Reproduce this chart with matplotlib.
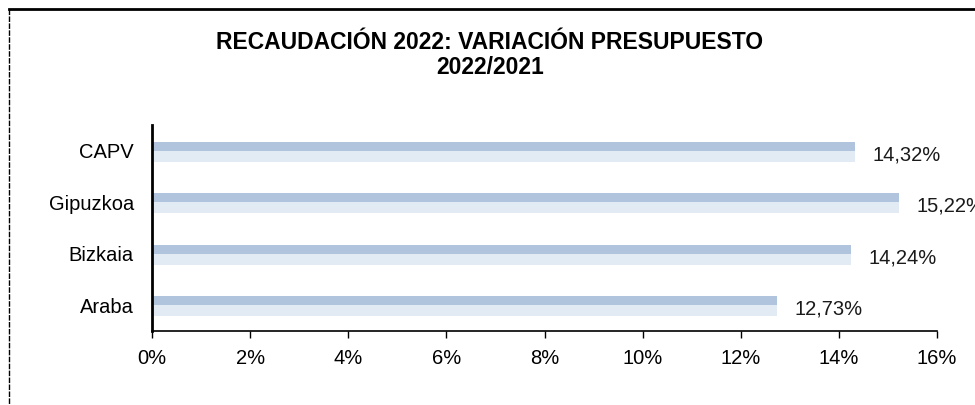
import matplotlib
matplotlib.use("Agg")
import matplotlib.pyplot as plt
from matplotlib.lines import Line2D

categories = ["Araba", "Bizkaia", "Gipuzkoa", "CAPV"]
values = [12.73, 14.24, 15.22, 14.32]
value_labels = ["12,73%", "14,24%", "15,22%", "14,32%"]
xticks = [0, 2, 4, 6, 8, 10, 12, 14, 16]
xtick_labels = ["0%", "2%", "4%", "6%", "8%", "10%", "12%", "14%", "16%"]
title = "RECAUDACIÓN 2022: VARIACIÓN PRESUPUESTO\n2022/2021"

plt.rcParams['font.family'] = ['Liberation Sans', 'DejaVu Sans']

W, H = 975, 405
fig = plt.figure(figsize=(W / 100, H / 100), dpi=100)
ax = fig.add_axes([152 / W, 1 - 331 / H, (937 - 152) / W, (331 - 125) / H])

dark = "#B0C4DE"
light = "#E2EAF4"
bh = 0.39
ypos = list(range(len(categories)))
# upper (darker) half and lower (lighter) half of each bar
ax.barh([y + bh * 0.225 for y in ypos], values, height=bh * 0.45, color=dark, edgecolor="none")
ax.barh([y - bh * 0.275 for y in ypos], values, height=bh * 0.55, color=light, edgecolor="none")

for y, v, lab in zip(ypos, values, value_labels):
    ax.annotate(lab, xy=(v, y), xytext=(13, -3), textcoords="offset points",
                ha="left", va="center", fontsize=14.5, color="#1a1a1a")

ax.set_xlim(0, 16)
ax.set_ylim(-0.5, 3.5)
ax.set_xticks(xticks)
ax.set_xticklabels(xtick_labels, fontsize=14.5)
ax.set_yticks(ypos)
ax.set_yticklabels(categories, fontsize=14.5)
ax.tick_params(axis="x", direction="out", length=5, width=1, pad=8, colors="black")
ax.tick_params(axis="y", length=0, pad=13)
for s in ["top", "right"]:
    ax.spines[s].set_visible(False)
ax.spines["left"].set_linewidth(2)
ax.spines["bottom"].set_linewidth(1.2)

fig.text(490 / W, 1 - 55 / H, title, ha="center", va="center", fontsize=16.5,
         fontweight="bold", linespacing=1.15)

# outer frame: top and left lines
fig.add_artist(Line2D([9 / W, 1], [1 - 9 / H, 1 - 9 / H], color="black", lw=2, transform=fig.transFigure))
fig.add_artist(Line2D([9 / W, 9 / W], [1 - 9 / H, 0], color="black", lw=1, ls=(0, (4, 1)), transform=fig.transFigure))

fig.savefig("out.png", dpi=100)
